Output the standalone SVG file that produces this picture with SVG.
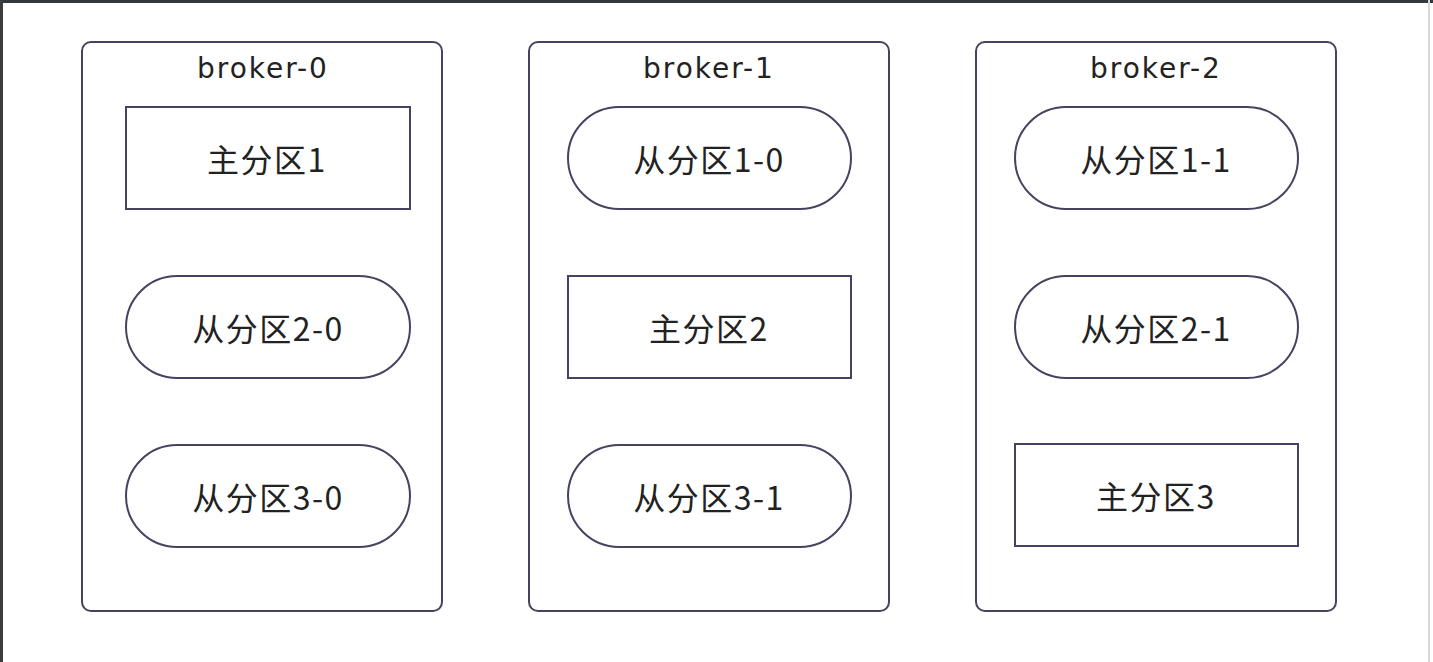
<svg xmlns="http://www.w3.org/2000/svg" width="1433" height="662" viewBox="0 0 1433 662">
<style>
.frame{fill:#ffffff;stroke:#45435f;stroke-width:2}
.node{fill:#ffffff;stroke:#45435f;stroke-width:2}
.title{font-family:"DejaVu Sans","Noto Sans CJK SC",sans-serif;font-size:28px;letter-spacing:2px;fill:#222;text-anchor:middle;dominant-baseline:central}
.lbl{font-family:"Noto Sans CJK SC","Liberation Sans",sans-serif;font-size:32px;letter-spacing:1.5px;fill:#222;text-anchor:middle;dominant-baseline:central}
</style>
<rect x="0" y="0" width="1433" height="662" fill="#ffffff"/>
<rect x="0" y="0" width="1433" height="3" fill="#33363a"/>
<rect x="0" y="0" width="3" height="662" fill="#3a3d40"/>
<rect x="1428" y="0" width="2" height="662" fill="#d8d8d8"/>
<g id="broker-0">
<rect class="frame" x="82" y="42" width="360" height="569" rx="9"/>
<text class="title" x="263" y="68">broker-0</text>
</g>
<g id="broker-1">
<rect class="frame" x="529" y="42" width="360" height="569" rx="9"/>
<text class="title" x="709" y="68">broker-1</text>
</g>
<g id="broker-2">
<rect class="frame" x="976" y="42" width="360" height="569" rx="9"/>
<text class="title" x="1156" y="68">broker-2</text>
</g>
<g id="p1-leader"><rect class="node" x="126" y="107" width="284" height="102"/><text class="lbl" x="267" y="158">主分区1</text></g>
<g id="p2-0"><rect class="node" x="126" y="276" width="284" height="102" rx="51"/><text class="lbl" x="268" y="327">从分区2-0</text></g>
<g id="p3-0"><rect class="node" x="126" y="445" width="284" height="102" rx="51"/><text class="lbl" x="268" y="496">从分区3-0</text></g>
<g id="p1-0"><rect class="node" x="568" y="107" width="283" height="102" rx="51"/><text class="lbl" x="709" y="158">从分区1-0</text></g>
<g id="p2-leader"><rect class="node" x="568" y="276" width="283" height="102"/><text class="lbl" x="709" y="327">主分区2</text></g>
<g id="p3-1"><rect class="node" x="568" y="445" width="283" height="102" rx="51"/><text class="lbl" x="709" y="496">从分区3-1</text></g>
<g id="p1-1"><rect class="node" x="1015" y="107" width="283" height="102" rx="51"/><text class="lbl" x="1156" y="158">从分区1-1</text></g>
<g id="p2-1"><rect class="node" x="1015" y="276" width="283" height="102" rx="51"/><text class="lbl" x="1156" y="327">从分区2-1</text></g>
<g id="p3-leader"><rect class="node" x="1015" y="444" width="283" height="102"/><text class="lbl" x="1156" y="495">主分区3</text></g>
<g id="connectors"></g>
</svg>
